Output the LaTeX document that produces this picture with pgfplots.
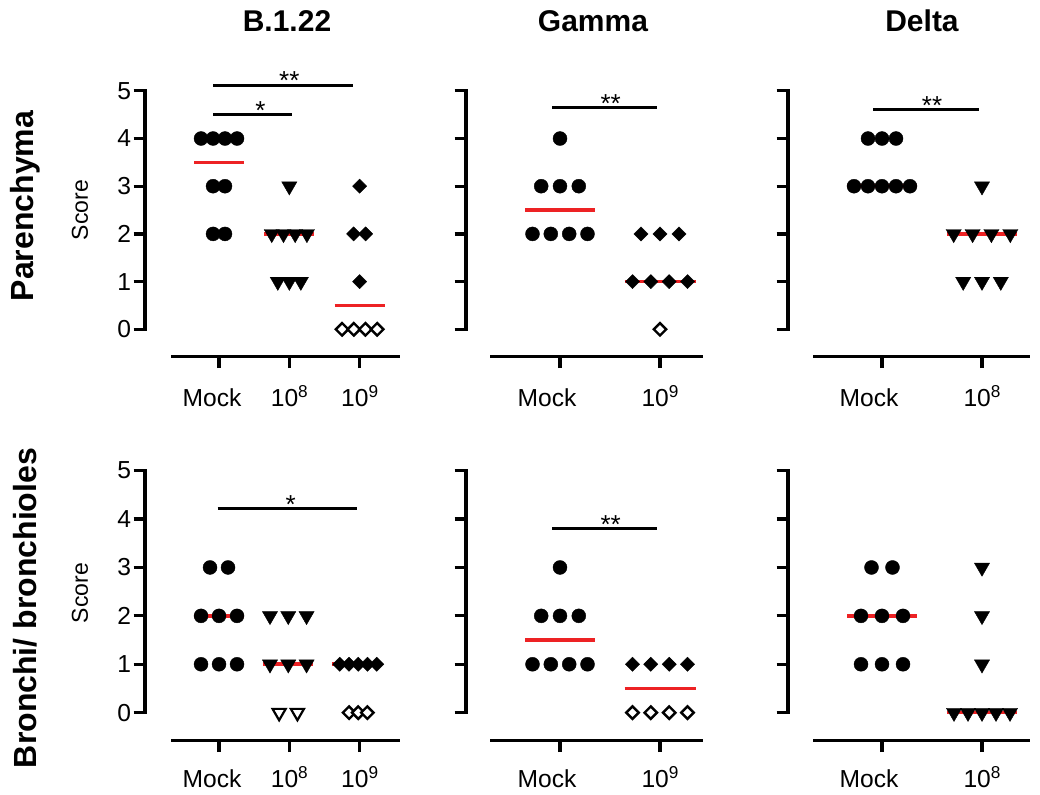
\documentclass[border=0pt]{standalone}
\usepackage{fontspec}
\setmainfont{Liberation Sans}
\usepackage{pgfplots}
\pgfplotsset{compat=1.18}
\definecolor{medred}{RGB}{237,34,36}
\newcommand{\tenp}[1]{10\raisebox{4.7pt}{\fontsize{8.6}{9}\selectfont #1}}
\newcommand{\mockl}[1]{\kern-#1 Mock\kern#1}
\pgfplotsset{
  panel/.style={
    anchor=south west,
    axis x line*=bottom, axis y line*=left,
    axis line style={draw=none},
    tick align=outside,
    major tick length=5.75pt,
    tick style={black, line width=1.6pt},
    ytick={0,1,2,3,4,5},
    clip=false,
    enlargelimits=false,
    tick label style={font=\fontsize{12.3}{14}\selectfont},
    yticklabel style={inner xsep=1pt},
    /pgf/number format/assume math mode=true,
    ymax=5.4,
  },
  toprow/.style={xticklabel style={anchor=base, yshift=-19.4pt}},
  botrow/.style={xticklabel style={anchor=base, yshift=-17.9pt}},
  circ/.style={only marks, mark=*, mark size=3.5pt, mark options={fill=black, draw=black, line width=0.2pt}},
  tri/.style={only marks, mark=triangle*, mark size=4.4pt, mark options={rotate=180, fill=black, draw=black, line width=0.2pt}},
  otri/.style={only marks, mark=triangle*, mark size=3.8pt, mark options={rotate=180, fill=white, draw=black, line width=1.1pt}},
  dia/.style={only marks, mark=square*, mark size=2.5pt, mark options={rotate=45, fill=black, draw=black, line width=0.2pt}},
  odia/.style={only marks, mark=square*, mark size=2.2pt, mark options={rotate=45, fill=white, draw=black, line width=1.2pt}},
  med/.style={medred, line width=1.8pt, no marks},
}
\newcommand{\stars}[3]{\node[anchor=base, inner sep=0pt, yshift=-2.3pt, font=\fontsize{13}{15}\selectfont] at (axis cs:#1,#2) {#3};}
\begin{document}
\begin{tikzpicture}
\path[use as bounding box] (0,0) rectangle (520pt,397.5pt);

% ---------------- Panel 1: B.1.22 parenchyma
\begin{axis}[panel, toprow, at={(72.5pt,219.15pt)}, x=35.15pt, y=23.85pt,
  xmin=-1.053, xmax=2.6, ymin=-0.574,
  xtick={0,1,2}, xticklabels={\mockl{3.5pt},\tenp{8},\tenp{9}}]
\draw[line width=1.6pt, line cap=rect] (axis cs:-1.053,0) -- (axis cs:-1.053,5);
\draw[line width=1.6pt] (axis cs:-0.68,-0.574) -- (axis cs:2.58,-0.574);
\addplot[circ] coordinates {(-0.256,4)(-0.085,4)(0.085,4)(0.256,4)(-0.085,3)(0.085,3)(-0.085,2)(0.085,2)};
\addplot[tri] coordinates {(1,3)(0.75,2)(0.917,2)(1.083,2)(1.25,2)(0.836,1)(1,1)(1.164,1)};
\addplot[dia] coordinates {(2,3)(1.915,2)(2.085,2)(2,1)};
\addplot[odia] coordinates {(1.75,0)(1.917,0)(2.083,0)(2.25,0)};
\addplot[med] coordinates {(-0.356,3.5)(0.356,3.5)};
\addplot[med] coordinates {(0.644,2)(1.356,2)};
\addplot[med] coordinates {(1.644,0.5)(2.356,0.5)};
\draw[line width=1.5pt] (axis cs:-0.08,5.12) -- (axis cs:1.91,5.12);
\draw[line width=1.5pt] (axis cs:-0.08,4.5) -- (axis cs:1.04,4.5);
\stars{1.0}{5.12}{**}
\stars{0.59}{4.5}{*}
\end{axis}

% ---------------- Panel 2: Gamma parenchyma
\begin{axis}[panel, toprow, at={(233pt,219.15pt)}, x=50pt, y=23.85pt,
  xmin=-0.94, xmax=1.45, ymin=-0.574, yticklabels={},
  xtick={0,1}, xticklabels={\mockl{6.5pt},\tenp{9}}]
\draw[line width=1.6pt, line cap=rect] (axis cs:-0.94,0) -- (axis cs:-0.94,5);
\draw[line width=1.6pt] (axis cs:-0.70,-0.574) -- (axis cs:1.43,-0.574);
\addplot[circ] coordinates {(0,4)(-0.188,3)(0,3)(0.188,3)(-0.275,2)(-0.092,2)(0.092,2)(0.275,2)};
\addplot[dia] coordinates {(0.81,2)(1,2)(1.19,2)(0.725,1)(0.908,1)(1.092,1)(1.275,1)};
\addplot[odia] coordinates {(1,0)};
\addplot[med] coordinates {(-0.35,2.5)(0.35,2.5)};
\addplot[med] coordinates {(0.645,1)(1.355,1)};
\draw[line width=1.5pt] (axis cs:-0.077,4.65) -- (axis cs:0.973,4.65);
\stars{0.507}{4.65}{**}
\end{axis}

% ---------------- Panel 3: Delta parenchyma
\begin{axis}[panel, toprow, at={(394pt,219.15pt)}, x=50pt, y=23.85pt,
  xmin=-0.94, xmax=1.5, ymin=-0.574, yticklabels={},
  xtick={0,1}, xticklabels={\mockl{6.5pt},\tenp{8}}]
\draw[line width=1.6pt, line cap=rect] (axis cs:-0.94,0) -- (axis cs:-0.94,5);
\draw[line width=1.6pt] (axis cs:-0.69,-0.574) -- (axis cs:1.48,-0.574);
\addplot[circ] coordinates {(-0.14,4)(0,4)(0.14,4)(-0.28,3)(-0.14,3)(0,3)(0.14,3)(0.28,3)};
\addplot[tri] coordinates {(1,3)(0.717,2)(0.906,2)(1.094,2)(1.283,2)(0.812,1)(1,1)(1.188,1)};
\addplot[med] coordinates {(-0.35,3)(0.35,3)};
\addplot[med] coordinates {(0.65,2)(1.35,2)};
\draw[line width=1.5pt] (axis cs:-0.087,4.61) -- (axis cs:0.97,4.61);
\stars{0.5}{4.61}{**}
\end{axis}

% ---------------- Panel 4: B.1.22 bronchi
\begin{axis}[panel, botrow, at={(72.5pt,27.15pt)}, x=35.15pt, y=24.2pt,
  xmin=-1.053, xmax=2.6, ymin=-0.579,
  xtick={0,1,2}, xticklabels={\mockl{3.5pt},\tenp{8},\tenp{9}}]
\draw[line width=1.6pt, line cap=rect] (axis cs:-1.053,0) -- (axis cs:-1.053,5);
\draw[line width=1.6pt] (axis cs:-0.68,-0.579) -- (axis cs:2.58,-0.579);
\addplot[circ] coordinates {(-0.128,3)(0.128,3)(-0.256,2)(0,2)(0.256,2)(-0.256,1)(0,1)(0.256,1)};
\addplot[tri] coordinates {(0.725,2)(0.985,2)(1.245,2)(0.725,1)(0.985,1)(1.245,1)};
\addplot[otri] coordinates {(0.855,0)(1.115,0)};
\addplot[dia] coordinates {(1.717,1)(1.848,1)(1.98,1)(2.112,1)(2.243,1)};
\addplot[odia] coordinates {(1.85,0)(1.98,0)(2.11,0)};
\addplot[med] coordinates {(-0.356,2)(0.356,2)};
\addplot[med] coordinates {(0.63,1)(1.342,1)};
\addplot[med] coordinates {(1.61,1)(2.323,1)};
\draw[line width=1.5pt] (axis cs:-0.02,4.22) -- (axis cs:1.96,4.22);
\stars{1.02}{4.22}{*}
\end{axis}

% ---------------- Panel 5: Gamma bronchi
\begin{axis}[panel, botrow, at={(233pt,27.15pt)}, x=50pt, y=24.2pt,
  xmin=-0.94, xmax=1.45, ymin=-0.579, yticklabels={},
  xtick={0,1}, xticklabels={\mockl{6.5pt},\tenp{9}}]
\draw[line width=1.6pt, line cap=rect] (axis cs:-0.94,0) -- (axis cs:-0.94,5);
\draw[line width=1.6pt] (axis cs:-0.70,-0.579) -- (axis cs:1.43,-0.579);
\addplot[circ] coordinates {(0,3)(-0.188,2)(0,2)(0.188,2)(-0.275,1)(-0.092,1)(0.092,1)(0.275,1)};
\addplot[dia] coordinates {(0.725,1)(0.908,1)(1.092,1)(1.275,1)};
\addplot[odia] coordinates {(0.725,0)(0.908,0)(1.092,0)(1.275,0)};
\addplot[med] coordinates {(-0.35,1.5)(0.35,1.5)};
\addplot[med] coordinates {(0.645,0.5)(1.355,0.5)};
\draw[line width=1.5pt] (axis cs:-0.077,3.8) -- (axis cs:0.973,3.8);
\stars{0.507}{3.8}{**}
\end{axis}

% ---------------- Panel 6: Delta bronchi
\begin{axis}[panel, botrow, at={(394pt,27.15pt)}, x=50pt, y=24.2pt,
  xmin=-0.94, xmax=1.5, ymin=-0.579, yticklabels={},
  xtick={0,1}, xticklabels={\mockl{6.5pt},\tenp{8}}]
\draw[line width=1.6pt, line cap=rect] (axis cs:-0.94,0) -- (axis cs:-0.94,5);
\draw[line width=1.6pt] (axis cs:-0.69,-0.579) -- (axis cs:1.48,-0.579);
\addplot[circ] coordinates {(-0.105,3)(0.105,3)(-0.21,2)(0,2)(0.21,2)(-0.21,1)(0,1)(0.21,1)};
\addplot[tri] coordinates {(1,3)(1,2)(1,1)(0.72,0)(0.86,0)(1,0)(1.14,0)(1.28,0)};
\addplot[med] coordinates {(-0.35,2)(0.35,2)};
\addplot[med] coordinates {(0.65,0)(1.35,0)};
\end{axis}

% ---------------- Titles and labels
\node[anchor=base, font=\bfseries\fontsize{15}{18}\selectfont] at (143.5pt,381.5pt) {B.1.22};
\node[anchor=base, font=\bfseries\fontsize{15}{18}\selectfont] at (296.5pt,381.5pt) {Gamma};
\node[anchor=base, font=\bfseries\fontsize{15}{18}\selectfont] at (461pt,381.5pt) {Delta};
\node[rotate=90, font=\bfseries\fontsize{16}{19}\selectfont] at (12.5pt,294.5pt) {Parenchyma};
\node[rotate=90, font=\bfseries\fontsize{16}{19}\selectfont] at (12.5pt,93.5pt) {Bronchi/ bronchioles};
\node[rotate=90, font=\fontsize{11.5}{13}\selectfont] at (40pt,292.5pt) {Score};
\node[rotate=90, font=\fontsize{11.5}{13}\selectfont] at (40pt,101pt) {Score};
\end{tikzpicture}
\end{document}
